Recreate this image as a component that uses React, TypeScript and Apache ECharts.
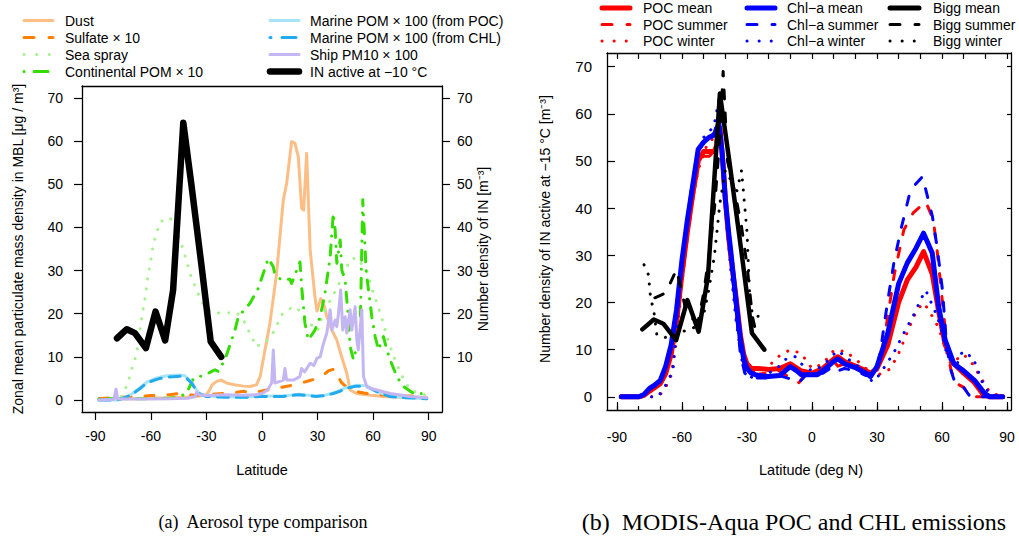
import React, { useEffect, useRef } from "react";
import * as echarts from "echarts";

// ---------- Panel (a): aerosol type comparison ----------
const latTicks30 = [-90, -60, -30, 0, 30, 60, 90];
const latTicks10 = [-90, -80, -70, -60, -50, -40, -30, -20, -10, 0, 10, 20, 30, 40, 50, 60, 70, 80, 90];
const yTicksLeft = [0, 10, 20, 30, 40, 50, 60, 70];
const yTicksRightA = [10, 20, 30, 40, 50, 60, 70];

const dustLat = [-88, -80, -70, -60, -50, -40, -34, -30, -28, -27, -24.5, -22, -19, -15, -10, -6.5, -3, -1, 1.6, 4.3, 7.9, 11.5, 13.3, 16, 17.8, 19.6, 21.4, 22.5, 24.1, 26, 28.6, 29.7, 31.7, 33.5, 35, 37.7, 40.4, 43, 45.8, 47.6, 51, 60, 65.5, 75, 89];
const dustVal = [0.3, 0.3, 0.3, 0.4, 0.5, 0.7, 0.9, 1.2, 2.5, 3.5, 4.3, 4.6, 3.9, 3.5, 3.2, 3.1, 3.5, 5.4, 11.6, 17.8, 29.4, 46.4, 50.2, 59.9, 59.5, 56.4, 44.4, 44, 57.2, 34.8, 23.9, 20.6, 23.5, 22, 19.3, 16.2, 13.9, 10, 6.2, 2.3, 1.5, 1, 0.8, 0.6, 0.6];

const sulfateLat = [-88, -80, -70, -60, -50, -45, -40, -35, -30, -25, -20, -15, -10, -5, 0, 5, 10, 15, 20, 25, 30, 33, 36, 39.5, 41, 43, 46, 50, 55, 60, 70, 80, 88];
const sulfateVal = [0.3, 0.5, 0.8, 1, 1.2, 1.5, 1.2, 1.1, 1.3, 1.4, 1.5, 1.7, 2, 1.6, 2.1, 2.5, 2.9, 3.3, 3.8, 4.4, 5, 5.7, 6.8, 7.2, 5.5, 4, 2.8, 2, 1.6, 1.3, 1, 0.9, 0.7];

const seaSprayLat = [-76, -74, -71.7, -69.8, -67.8, -65, -63.8, -62.7, -62, -61, -58.7, -57, -55, -50, -47, -44.7, -42.5, -40.4, -38.6, -36, -33.5, -30.5, -26, -19, -13.8, -10, -6, -3, -1, 2.5, 6, 11, 17, 21, 24, 30, 33, 40.5, 47.6, 51, 53, 57, 60, 64, 69, 75, 80, 89];
const seaSprayVal = [0.8, 2.3, 5, 8, 10.4, 19, 22, 24.7, 27.6, 30, 36, 38.6, 41.3, 42.3, 41, 37.5, 34.8, 31.7, 29, 26.3, 23.6, 21.3, 20.1, 20.2, 20.3, 18.5, 15, 12.3, 13, 13.6, 15.6, 20, 21.7, 20.5, 18.5, 16, 20, 26, 32.5, 33, 32, 29.5, 25, 20, 12.5, 6, 2.3, 1];

const contPomLat = [-88, -80, -70, -60, -50, -45, -40.7, -37, -30.8, -25.4, -23.6, -20, -14.6, -12.8, -6.5, -2, 3.4, 6.1, 7, 10.6, 15.1, 16, 20.5, 21.4, 23.2, 25, 28.6, 31.4, 34, 36.8, 38.5, 39.5, 40.4, 42.2, 43.1, 44.9, 46.6, 47.6, 49.4, 53, 54.4, 55.2, 56.2, 57.5, 59.3, 61.1, 62.9, 65.6, 67.4, 69.2, 72.8, 76.4, 81.8, 89];
const contPomVal = [0.3, 0.3, 0.3, 0.3, 0.4, 0.6, 1.6, 5, 5.8, 7, 6.6, 9.3, 16.2, 19.3, 22.4, 25.9, 32.8, 30.9, 29, 27.8, 28, 27, 32, 26.3, 17.8, 13.9, 16.2, 19.3, 24.7, 33.2, 43.3, 39.4, 31.7, 37.1, 30.1, 27.8, 19.3, 12.4, 9.3, 15.5, 46.4, 39.4, 30.1, 25.5, 19.3, 14.7, 11.6, 14.7, 11.6, 9.3, 5.4, 3.1, 1.5, 1.5];

const marineLat = [-88, -78, -74, -69.5, -66, -62.3, -58, -55, -51, -48, -44, -41.6, -38, -34.4, -30, -24, -17, -10, 0, 11, 20, 29, 34, 38.5, 42, 45.7, 51, 56.5, 62, 69, 78, 89];
const marinePocVal = [0, 0, 0.5, 1.6, 2.8, 4.1, 4.9, 5.3, 5.6, 5.7, 5.8, 5.6, 4.1, 1.7, 0.9, 0.8, 0.7, 0.7, 0.9, 0.9, 1.3, 0.9, 1.1, 1.6, 2.2, 2.9, 3.4, 3.3, 2.0, 0.9, 0.5, 0.3];
const marineChlVal = [0, 0, 0.5, 1.5, 2.6, 3.9, 4.6, 5, 5.3, 5.4, 5.5, 5.4, 3.9, 1.5, 0.8, 0.7, 0.6, 0.6, 0.8, 0.8, 1.2, 0.8, 1, 1.5, 2, 2.7, 3.2, 3.1, 1.9, 0.8, 0.5, 0.3];

const shipLat = [-88, -80, -78.8, -78.4, -78, -70, -60, -50, -40, -36, -35.3, -34, -30, -20, -10, -3, 0, 3, 5.2, 6.1, 7, 11.5, 12.4, 13.3, 17, 20.4, 21.4, 23, 26, 28, 29.7, 31.4, 33.2, 35, 36.8, 37.7, 39.5, 40.4, 41.3, 42.5, 43.6, 44.9, 45.8, 47.6, 48.5, 50.3, 51.2, 52, 53.9, 54.8, 56.6, 58.4, 62, 69.2, 80, 89];
const shipVal = [0, 0.1, 2.5, 1.5, 0.2, 0.2, 0.2, 0.3, 0.4, 0.8, 1.8, 1.2, 1, 1.2, 1.1, 1.2, 1.5, 2.3, 3.9, 11.6, 3.9, 4.6, 7.3, 4.6, 4.6, 5.4, 7.3, 6.5, 8.5, 8, 9.7, 10, 13.1, 15.5, 20.9, 16.2, 18.5, 17, 20.1, 25.5, 16.2, 19.3, 15.5, 20.9, 16.2, 21.6, 13.9, 11.6, 20.9, 5.4, 3.1, 2.7, 2.3, 1.5, 0.8, 0.5];

const inActiveLat = [-78.3, -73, -68.6, -62.7, -57.5, -52.3, -48, -42.5, -38, -32.6, -27.7, -22];
const inActiveVal = [14.3, 16.4, 15.5, 12.0, 20.5, 13.8, 25.5, 64.3, 49.5, 30.9, 13.5, 10];

// ---------- Panel (b): MODIS-Aqua POC and CHL emissions ----------
const pocMeanLat = [-88, -80, -77.5, -75, -72.5, -70, -67.5, -65, -62.5, -60, -57.5, -55, -52.5, -50, -47.5, -45, -43.5, -42.5, -41, -40, -38.5, -37.5, -35, -33, -31.5, -30, -28, -25, -20, -15, -10, -5, -3, 0, 5, 10, 12, 15, 20, 25, 27, 30, 35, 40, 44, 48, 51.5, 55.5, 58.5, 61.5, 65.5, 70, 75, 79, 82, 88];
const pocMeanVal = [0, 0, 0.3, 1.2, 2, 2.8, 5, 9, 16, 26, 35, 43, 50, 52, 52, 52, 54, 57, 49, 42, 34, 30, 21, 13, 9, 7, 6, 6, 5.8, 6, 7, 5.5, 5.3, 5, 6, 8, 8.5, 7.5, 6.5, 5.5, 5, 6, 11, 20, 24.8, 27.5, 30.8, 26, 18, 11, 7, 5, 3, 0.5, 0, 0];

const chlMeanLat = [-88, -80, -77.5, -75, -72.5, -70, -67.5, -65, -62.5, -60, -57.5, -55, -52.5, -50, -47.5, -45, -43, -41.5, -40, -38.5, -37.5, -35, -33, -31.5, -30, -28, -25, -20, -15, -10, -7, -5, 0, 2.5, 5, 10, 12, 15, 20, 25, 27, 30, 35, 40, 44, 48, 51.5, 55.5, 58.5, 61.5, 65.5, 70, 75, 79.5, 82, 88];
const chlMeanVal = [0, 0, 0.5, 1.8, 2.5, 3.5, 6.5, 11, 18.5, 29, 37.5, 45, 52.5, 54, 55, 55.5, 58, 52, 42, 35, 31, 20, 12, 8, 6, 5, 4.5, 4.3, 4.5, 6.4, 5.5, 4.7, 4.7, 4.7, 5.5, 7.5, 8, 7, 6.2, 5, 4.3, 6.4, 13.5, 24, 28.4, 31.5, 34.7, 30.5, 19, 12, 7, 5.5, 3.5, 0.8, 0, 0];

const pocSummerLat = [-88, -80, -77.5, -75, -72.5, -70, -67.5, -65, -62.5, -60, -57.5, -55, -52.5, -50, -47.5, -45, -42.5, -41, -40, -37.5, -35, -33, -31, -28, -25, -20, -15, -10, -6, -3, 0, 5, 10, 12, 15, 20, 25, 30, 32, 35, 38, 42.4, 46.7, 52.5, 56, 58, 60, 62, 64, 66, 70, 73, 88];
const pocSummerVal = [0, 0, 0.3, 1, 1.8, 2.5, 4.5, 8.5, 15, 25, 34, 42, 49, 51, 51, 52, 60, 50, 41, 30, 19, 10, 6, 4.5, 4.8, 5, 5.5, 4, 3, 4.8, 5, 5.5, 7.5, 6.5, 7, 6, 5, 5.5, 9, 17, 26, 35.4, 39, 41.4, 37.5, 30, 21, 12, 6, 3, 2, 0, 0];

const chlSummerLat = [-88, -80, -77.5, -75, -72.5, -70, -67.5, -65, -62.5, -60, -57.5, -55, -52.5, -50, -47.5, -45, -43, -41.5, -40, -37.5, -35, -33, -31, -28, -25, -20, -15, -10, -6, -3, 0, 5, 10, 12, 15, 20, 25, 30, 31.7, 34.8, 37.8, 41, 45.5, 51, 55.6, 57.9, 60.2, 61.7, 63.5, 66, 70, 73, 88];
const chlSummerVal = [0, 0, 0.5, 1.6, 2.3, 3.2, 6, 10, 17, 28, 38, 46, 52, 54, 55, 56, 60, 52, 41, 30, 18, 9, 5, 3.8, 4, 4, 4.5, 3.8, 3, 4.5, 5, 5, 6.5, 5.5, 6, 5.5, 4.5, 6, 10, 19.9, 28.4, 35.4, 43.9, 46.7, 38.2, 31.2, 22.7, 13.5, 6.5, 3, 2, 0, 0];

const pocWinterLat = [-88, -75, -72, -70, -67.5, -65, -62.5, -60, -57.5, -55, -52.5, -50, -47.5, -45, -43, -41.5, -40, -37.5, -35, -32.5, -30, -27.5, -25, -20, -15, -10, -5, 0, 5, 10, 12, 15, 20, 25, 27.5, 30, 35.7, 39.4, 42.5, 47, 51, 53, 55.6, 58, 60, 61.7, 64, 67, 70, 74, 78, 82, 88];
const pocWinterVal = [0, 0, 0, 0.5, 2, 4.5, 12, 24, 34, 42, 48, 52, 54, 55, 60, 50, 40, 28, 17, 9, 6, 5, 5.5, 6.5, 8.7, 10, 9.2, 6, 7, 9.8, 9.5, 9.8, 8, 6, 4, 4.5, 5.8, 8.5, 12, 17, 19.9, 19, 17, 15, 12.6, 10, 7, 8, 9, 7, 4, 1, 0];

const chlWinterLat = [-88, -75, -71, -69, -67.5, -65.5, -64, -62.5, -60.3, -57.5, -55, -52.5, -50, -47.5, -45, -43, -41.5, -40, -37.5, -35, -32.5, -30, -27.5, -25, -20, -15, -12, -8, -5, 0, 5, 10, 12.4, 15, 20, 25, 27.8, 30, 33, 37.7, 42.5, 47.8, 50, 52.5, 55, 57.1, 59.5, 61.7, 64, 67, 69.4, 72, 74, 76.5, 78, 82, 88];
const chlWinterVal = [0, 0, 0, 1.5, 2.5, 4.3, 6.4, 15, 27, 37, 46, 52, 55, 56, 58, 63, 52, 40, 27, 16, 8, 5, 4, 4.5, 5, 6.5, 8, 8.6, 7, 5.5, 6.5, 9, 9.8, 8.5, 7, 5, 3.2, 4, 6, 9.3, 13.6, 18.1, 20.5, 22.6, 20, 17.8, 14.8, 10, 7.6, 7, 9.6, 8.8, 8.6, 5.8, 3.6, 0.5, 0];

const biggMeanLat = [-78.3, -73, -68.6, -62.7, -57.5, -52.3, -48, -42.5, -38, -32.6, -27.7, -22];
const biggMeanVal = [14.3, 16.4, 15.5, 12.0, 20.5, 13.8, 25.5, 64.3, 49.5, 30.9, 13.5, 10];

const biggSummerLat = [-72.5, -67.5, -62.5, -57.5, -52.5, -50, -47.5, -45, -42.5, -41, -39, -37.5, -35, -32.5, -30, -27.5, -25, -22.5];
const biggSummerVal = [21, 22, 27, 17, 16, 22, 30, 40, 55, 69, 50, 47, 42, 36, 28, 17, 12, 10];

const biggWinterLat = [-77.5, -75.5, -74.5, -73, -71.6, -69, -62.5, -58, -54.7, -50, -47.5, -45, -42.5, -40, -37.5, -35, -32.5, -30, -28.8, -27.5, -25, -22.5];
const biggWinterVal = [28, 25.9, 21, 18.2, 13.2, 12.5, 13, 14.2, 14.6, 17.4, 23, 30, 41, 48, 46, 43, 48, 35, 22, 17.4, 17, 18.8];

// ---------- styling ----------
const FONT = '"Liberation Sans", Arial, Helvetica, sans-serif';
const SERIF = '"Liberation Serif", "DejaVu Serif", serif';

const C = {
  dust: "#FDBE85",
  sulfate: "#FF7F00",
  seaSpray: "#A6F28E",
  contPom: "#33DD00",
  marinePoc: "#A8E4F8",
  marineChl: "#22AAEE",
  ship: "#C4B6F2",
  black: "#000000",
  red: "#FF0000",
  blue: "#0000FF",
};

const DOT = [0.1, 10];
const DASH = [9, 14];
const DOTDASH = [0.1, 9, 10, 9];
const LONGDASH = [11, 8];

const zip = (xs: number[], ys: number[]) => xs.map((x, i) => [x, ys[i]]);

function mkLine(name: string, lat: number[], val: number[], color: string, width: number, dash: any, xi: number, yi: number) {
  return {
    name,
    type: "line",
    xAxisIndex: xi,
    yAxisIndex: yi,
    data: zip(lat, val),
    showSymbol: false,
    symbol: "none",
    silent: true,
    lineStyle: { color, width, type: dash || "solid", cap: "round", join: "round" },
  };
}

function legendItem(x1: number, x2: number, tx: number, y: number, label: string, color: string, width: number, dash: any, offset = 0) {
  return [
    {
      type: "line",
      shape: { x1, y1: y, x2, y2: y },
      style: { stroke: color, lineWidth: width, lineDash: dash || null, lineDashOffset: offset, lineCap: "round" },
    },
    {
      type: "text",
      x: tx,
      y,
      style: { text: label, fill: "#000", font: `14px ${FONT}`, align: "left", verticalAlign: "middle", textAlign: "left", textVerticalAlign: "middle" },
    },
  ];
}

function title(x: number, y: number, text: string, size: number, rotate = false, family = FONT) {
  return {
    type: "text",
    x,
    y,
    rotation: rotate ? Math.PI / 2 : 0,
    style: { text, fill: "#000", font: `${size}px ${family}`, align: "center", verticalAlign: "middle", textAlign: "center", textVerticalAlign: "middle" },
  };
}

const tickStyle = { color: "#000", width: 1.2 };
const boxLine = { show: true, onZero: false, lineStyle: { color: "#000", width: 1.3 } };
const noLine = { show: false, onZero: false };
const labelStyle = (size: number) => ({ color: "#000", fontSize: size, fontFamily: FONT });

const xRangeA = { min: -97.2, max: 97.2 };
const yRangeA = { min: -2.8, max: 72.8 };
const xRangeB = { min: -94.6, max: 91.85 };
const yRangeB = { min: -2.8, max: 72.9 };

export default function App() {
  const ref = useRef<HTMLDivElement>(null);

  useEffect(() => {
    if (!ref.current) return;
    const chart = echarts.init(ref.current, null, { renderer: "svg" });

    const option: any = {
      animation: false,
      backgroundColor: "#ffffff",
      grid: [
        { left: 82, top: 86, width: 360, height: 326 },
        { left: 607, top: 53, width: 404, height: 357 },
        { left: 607, top: 53, width: 404, height: 357 },
      ],
      xAxis: [
        // 0: panel a bottom
        {
          type: "value", gridIndex: 0, position: "bottom", ...xRangeA,
          axisLine: boxLine, splitLine: { show: false },
          axisTick: { show: true, customValues: latTicks30, length: 8, lineStyle: tickStyle },
          axisLabel: { customValues: latTicks30, margin: 17, ...labelStyle(14) },
        },
        // 1: panel a top (box only)
        {
          type: "value", gridIndex: 0, position: "top", ...xRangeA,
          axisLine: boxLine, splitLine: { show: false }, axisTick: { show: false }, axisLabel: { show: false },
        },
        // 2: panel b bottom
        {
          type: "value", gridIndex: 1, position: "bottom", ...xRangeB,
          axisLine: boxLine, splitLine: { show: false },
          axisTick: { show: true, inside: true, customValues: latTicks30, length: 8, lineStyle: tickStyle },
          axisLabel: { customValues: latTicks30, margin: 20, ...labelStyle(14) },
        },
        // 3: panel b top
        {
          type: "value", gridIndex: 1, position: "top", ...xRangeB,
          axisLine: boxLine, splitLine: { show: false },
          axisTick: { show: true, inside: true, customValues: latTicks10, length: 6, lineStyle: tickStyle },
          axisLabel: { show: false },
        },
        // 4: panel b bottom minor ticks
        {
          type: "value", gridIndex: 2, position: "bottom", ...xRangeB,
          axisLine: noLine, splitLine: { show: false },
          axisTick: { show: true, inside: true, customValues: latTicks10, length: 4, lineStyle: tickStyle },
          axisLabel: { show: false },
        },
      ],
      yAxis: [
        // 0: panel a left
        {
          type: "value", gridIndex: 0, position: "left", ...yRangeA,
          axisLine: boxLine, splitLine: { show: false },
          axisTick: { show: true, customValues: yTicksLeft, length: 8, lineStyle: tickStyle },
          axisLabel: { customValues: yTicksLeft, margin: 19, ...labelStyle(14) },
        },
        // 1: panel a right (IN)
        {
          type: "value", gridIndex: 0, position: "right", ...yRangeA,
          axisLine: boxLine, splitLine: { show: false },
          axisTick: { show: true, customValues: yTicksRightA, length: 8, lineStyle: tickStyle },
          axisLabel: { customValues: yTicksRightA, margin: 15, ...labelStyle(14) },
        },
        // 2: panel b left
        {
          type: "value", gridIndex: 1, position: "left", ...yRangeB,
          axisLine: boxLine, splitLine: { show: false },
          axisTick: { show: true, inside: true, customValues: yTicksLeft, length: 8, lineStyle: tickStyle },
          axisLabel: { customValues: yTicksLeft, margin: 15, ...labelStyle(15) },
        },
        // 3: panel b right
        {
          type: "value", gridIndex: 1, position: "right", ...yRangeB,
          axisLine: boxLine, splitLine: { show: false },
          axisTick: { show: true, inside: true, customValues: yTicksLeft, length: 4, lineStyle: tickStyle },
          axisLabel: { show: false },
        },
        // 4: helper for grid 2
        {
          type: "value", gridIndex: 2, position: "left", ...yRangeB,
          axisLine: noLine, splitLine: { show: false }, axisTick: { show: false }, axisLabel: { show: false },
        },
      ],
      series: [
        mkLine("Dust", dustLat, dustVal, C.dust, 3, null, 0, 0),
        mkLine("Sulfate × 10", sulfateLat, sulfateVal, C.sulfate, 3, DASH, 0, 0),
        mkLine("Sea spray", seaSprayLat, seaSprayVal, C.seaSpray, 3, DOT, 0, 0),
        mkLine("Continental POM × 10", contPomLat, contPomVal, C.contPom, 3, DOTDASH, 0, 0),
        mkLine("Marine POM × 100 (from POC)", marineLat, marinePocVal, C.marinePoc, 3, null, 0, 0),
        mkLine("Marine POM × 100 (from CHL)", marineLat, marineChlVal, C.marineChl, 3, LONGDASH, 0, 0),
        mkLine("Ship PM10 × 100", shipLat, shipVal, C.ship, 3, null, 0, 0),
        mkLine("IN active at −10 °C", inActiveLat, inActiveVal, C.black, 6.5, null, 0, 1),

        mkLine("POC mean", pocMeanLat, pocMeanVal, C.red, 5, null, 2, 2),
        mkLine("POC summer", pocSummerLat, pocSummerVal, C.red, 3, DASH, 2, 2),
        mkLine("POC winter", pocWinterLat, pocWinterVal, C.red, 3, DOT, 2, 2),
        mkLine("Chl−a mean", chlMeanLat, chlMeanVal, C.blue, 5, null, 2, 2),
        mkLine("Chl−a summer", chlSummerLat, chlSummerVal, C.blue, 3, DASH, 2, 2),
        mkLine("Chl−a winter", chlWinterLat, chlWinterVal, C.blue, 3, DOT, 2, 2),
        mkLine("Bigg mean", biggMeanLat, biggMeanVal, C.black, 4.5, null, 2, 2),
        mkLine("Bigg summer", biggSummerLat, biggSummerVal, C.black, 3, DASH, 2, 2),
        mkLine("Bigg winter", biggWinterLat, biggWinterVal, C.black, 3, DOT, 2, 2),
      ],
      graphic: [
        // legend (a)
        ...legendItem(24, 53, 65, 20.5, "Dust", C.dust, 3, null),
        ...legendItem(24, 53, 65, 37.5, "Sulfate × 10", C.sulfate, 3, [10, 15]),
        ...legendItem(24, 53, 65, 54.5, "Sea spray", C.seaSpray, 3, [0.1, 12.5]),
        ...legendItem(24, 53, 65, 71.5, "Continental POM × 10", C.contPom, 3, [0.1, 10, 14, 10]),
        ...legendItem(270, 299, 310, 20.5, "Marine POM × 100 (from POC)", C.marinePoc, 3, null),
        ...legendItem(270, 299, 310, 37.5, "Marine POM × 100 (from CHL)", C.marineChl, 3, [1, 11, 14, 8]),
        ...legendItem(270, 299, 310, 54.5, "Ship PM10 × 100", C.ship, 3, null),
        ...legendItem(270, 299, 310, 71.5, "IN active at −10 °C", C.black, 6.5, null),
        // legend (b)
        ...legendItem(602, 630, 643, 8, "POC mean", C.red, 5, null),
        ...legendItem(602, 630, 643, 24.5, "POC summer", C.red, 3, [10, 15]),
        ...legendItem(602, 630, 643, 41, "POC winter", C.red, 3, [0.1, 12]),
        ...legendItem(747, 775, 787, 8, "Chl−a mean", C.blue, 5, null),
        ...legendItem(747, 775, 787, 24.5, "Chl−a summer", C.blue, 3, [10, 15]),
        ...legendItem(747, 775, 787, 41, "Chl−a winter", C.blue, 3, [0.1, 12]),
        ...legendItem(890, 919, 933, 8, "Bigg mean", C.black, 5, null),
        ...legendItem(890, 919, 933, 24.5, "Bigg summer", C.black, 3, [10, 15]),
        ...legendItem(890, 919, 933, 41, "Bigg winter", C.black, 3, [0.1, 12]),
        // axis titles
        title(262, 470, "Latitude", 14.5),
        title(811, 470, "Latitude (deg N)", 14.5),
        title(18, 249, "Zonal mean particulate mass density in MBL [μg / m³]", 14, true),
        title(483, 249, "Number density of IN [m⁻³]", 14, true),
        title(545, 229, "Number density of IN active at −15 °C [m⁻³]", 14, true),
        // captions
        title(263, 522, "(a)  Aerosol type comparison", 18, false, SERIF),
        title(794, 522, "(b)  MODIS-Aqua POC and CHL emissions", 24, false, SERIF),
      ],
    };

    chart.setOption(option);
    return () => chart.dispose();
  }, []);

  return (
    <div
      ref={ref}
      style={{ position: "absolute", left: 0, top: 0, width: 1019, height: 537, background: "#fff" }}
    />
  );
}
